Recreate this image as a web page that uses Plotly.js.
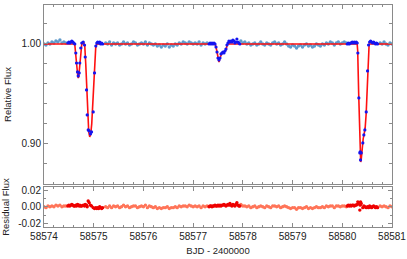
<!DOCTYPE html>
<html><head><meta charset="utf-8">
<script src="https://cdn.plot.ly/plotly-3.0.1.min.js"></script>
<style>html,body{margin:0;padding:0;background:#fff}#chart{width:407px;height:259px}</style>
</head><body><div id="chart"></div>
<script>
// Out-of-eclipse photometry (light blue)
const ootTime = [
58574.00,58574.04,58574.08,58574.12,58574.16,58574.20,58574.24,58574.28,58574.32,58574.36,58574.40,58574.44,
58575.24,58575.28,58575.32,58575.36,58575.40,58575.44,58575.48,58575.52,58575.56,58575.60,58575.64,58575.68,58575.72,
58575.76,58575.80,58575.84,58575.88,58575.92,58575.96,58576.00,58576.04,58576.08,58576.12,58576.16,58576.20,58576.24,
58576.28,58576.32,58576.36,58576.40,58576.44,58576.48,58576.52,58576.56,58576.60,58576.64,58576.68,58576.72,58576.76,
58576.80,58576.84,58576.88,58576.92,58576.96,58577.00,58577.04,58577.08,58577.12,58577.16,58577.20,58577.24,58577.28,
58577.96,58578.00,58578.04,58578.08,58578.12,58578.16,58578.20,58578.24,58578.28,58578.32,58578.36,58578.40,58578.44,
58578.48,58578.52,58578.56,58578.60,58578.64,58578.68,58578.72,58578.76,58578.80,58578.84,58578.88,58578.92,58578.96,
58579.00,58579.04,58579.08,58579.12,58579.16,58579.20,58579.24,58579.28,58579.32,58579.36,58579.40,58579.44,58579.48,
58579.52,58579.56,58579.60,58579.64,58579.68,58579.72,58579.76,58579.80,58579.84,58579.88,58579.92,58579.96,58580.00,
58580.04,58580.08,
58580.76,58580.80,58580.84,58580.88,58580.92,58580.96,58581.00];
const ootFlux = [
1.000,0.999,1.001,1.000,1.002,1.001,1.003,1.002,1.004,1.001,1.002,1.001,
1.001,1.000,1.002,0.999,1.001,1.000,1.001,0.999,1.000,1.002,1.000,1.001,0.999,
1.000,1.002,1.001,0.999,1.000,1.001,1.000,1.002,0.999,1.001,1.000,0.999,1.000,
0.998,0.999,0.997,0.999,0.998,1.000,0.997,0.999,0.998,1.000,0.999,1.001,1.000,
1.002,1.001,1.000,1.002,1.001,1.000,1.001,1.000,1.002,0.999,1.001,1.000,1.001,
1.003,1.001,1.002,1.000,1.001,0.999,1.000,1.001,0.999,1.000,1.002,1.000,0.999,
1.001,1.000,0.999,1.001,1.002,1.000,1.001,0.999,1.000,1.002,1.000,0.998,0.997,
0.999,0.998,0.996,0.998,0.999,0.997,0.999,1.000,0.998,0.999,0.997,0.998,1.000,
0.999,0.998,1.000,0.999,1.001,1.000,1.002,1.001,0.999,1.001,1.002,1.000,1.001,
1.002,1.001,
1.001,1.000,1.002,1.000,0.999,1.001,1.000];
const ootResid = [
0.000,-0.001,0.001,0.000,0.001,0.000,0.002,0.001,0.002,0.000,0.001,0.001,
0.000,-0.001,0.001,-0.001,0.001,0.000,0.001,-0.001,0.000,0.002,0.000,0.001,-0.001,
0.000,0.001,0.001,-0.001,0.000,0.001,0.000,0.002,-0.001,0.001,0.000,-0.001,0.000,
-0.002,-0.001,-0.002,-0.001,-0.001,0.000,-0.002,-0.001,-0.001,0.000,-0.001,0.001,0.000,
0.001,0.001,0.000,0.002,0.001,0.000,0.001,0.000,0.001,-0.001,0.001,0.000,0.001,
0.003,0.001,0.001,0.000,0.001,-0.001,0.000,0.001,-0.001,0.000,0.001,0.000,-0.001,
0.001,0.000,-0.001,0.001,0.001,0.000,0.001,-0.001,0.000,0.001,0.000,-0.001,-0.002,
-0.001,-0.001,-0.003,-0.001,-0.001,-0.002,-0.001,0.000,-0.002,-0.001,-0.002,-0.001,0.000,
-0.001,-0.001,0.000,-0.001,0.001,0.000,0.001,0.001,-0.001,0.001,0.001,0.000,0.001,
0.001,0.000,
0.001,0.000,0.001,0.000,-0.001,0.001,0.000];

// In-eclipse photometry (blue)
const eclTime = [
58574.48,58574.50,58574.52,58574.54,58574.56,58574.58,58574.60,58574.62,58574.640,58574.654,58574.674,58574.688,
58574.708,58574.720,58574.740,58574.760,58574.789,58574.815,58574.829,58574.855,58574.869,58574.889,58574.909,58574.935,
58574.956,58574.990,58575.016,58575.042,58575.062,58575.08,58575.10,58575.12,58575.14,58575.16,58575.18,
58577.32,58577.34,58577.36,58577.38,58577.40,58577.42,58577.44,58577.46,58577.48,58577.50,58577.52,58577.54,
58577.56,58577.58,58577.60,58577.62,58577.64,58577.66,58577.68,58577.70,58577.72,58577.74,58577.76,58577.78,
58577.80,58577.82,58577.84,58577.86,58577.88,58577.90,58577.92,58577.94,
58580.10,58580.12,58580.14,58580.16,58580.18,58580.20,58580.22,58580.24,58580.26,58580.28,58580.30,58580.313,
58580.333,58580.353,58580.360,58580.367,58580.381,58580.413,58580.434,58580.454,58580.482,58580.508,58580.528,58580.55,
58580.57,58580.59,58580.61,58580.63,58580.65,58580.67,58580.69,58580.71];
const eclFlux = [
1.001,1.002,1.001,1.002,1.003,1.002,1.001,1.000,0.991,0.981,0.972,0.968,
0.971,0.981,0.996,1.001,1.002,0.999,0.987,0.954,0.929,0.914,0.913,0.910,
0.912,0.932,0.971,0.998,1.001,1.002,1.001,1.002,1.000,1.001,1.000,
1.000,1.001,1.000,1.001,1.000,1.001,1.000,0.997,0.992,0.986,0.984,0.986,
0.990,0.991,0.992,0.991,0.993,0.995,0.999,1.001,1.003,1.002,1.003,1.002,
1.004,1.003,1.001,1.002,1.005,1.002,1.001,1.000,
1.000,1.001,1.000,1.001,1.001,1.002,1.001,1.002,1.001,1.002,1.001,0.991,
0.946,0.891,0.892,0.884,0.891,0.901,0.909,0.914,0.932,0.973,0.999,1.002,
1.003,1.002,1.001,1.002,1.001,1.000,1.001,1.000];
const eclResid = [
0.001,0.002,0.001,0.002,0.003,0.002,0.001,0.001,0.002,0.001,0.003,0.002,
0.001,0.002,0.001,0.001,0.002,0.001,0.003,0.002,0.000,0.007,0.005,0.002,
0.001,-0.001,-0.002,-0.001,-0.002,-0.001,-0.002,0.000,-0.001,-0.002,-0.001,
0.000,0.001,0.001,0.000,0.001,0.001,0.002,0.001,0.001,0.002,0.001,0.002,
0.001,0.002,0.002,0.003,0.002,0.001,0.002,0.003,0.002,0.004,0.002,0.001,
0.003,0.002,0.001,0.003,0.005,0.002,0.001,0.001,
0.001,0.002,0.001,0.002,0.001,0.002,0.002,0.001,0.002,0.002,0.003,0.006,
0.004,-0.004,0.002,0.006,0.004,-0.001,0.001,0.000,-0.001,0.000,-0.001,0.001,
0.000,-0.001,0.000,0.001,0.000,-0.001,0.000,-0.001];

// Eclipse model (red line)
const modelTime = [
58574.00,58574.60,58574.62,58574.64,58574.66,58574.68,58574.69,58574.70,58574.72,58574.74,58574.76,58574.80,
58574.82,58574.84,58574.86,58574.88,58574.90,58574.92,58574.94,58574.96,58574.98,58575.00,58575.02,58575.04,58575.06,
58577.44,58577.46,58577.48,58577.50,58577.52,58577.54,58577.56,58577.58,58577.62,58577.66,58577.68,58577.70,
58580.30,58580.31,58580.33,58580.35,58580.37,58580.38,58580.40,58580.42,58580.44,58580.46,58580.48,58580.50,58580.52,58580.54,
58581.00];
const modelFlux = [
1.000,1.000,0.999,0.991,0.978,0.968,0.966,0.968,0.980,0.995,1.000,1.001,
0.998,0.980,0.952,0.925,0.912,0.907,0.910,0.920,0.940,0.962,0.982,0.996,1.000,
1.000,0.997,0.991,0.985,0.982,0.986,0.990,0.991,0.992,0.994,0.998,1.000,
1.000,0.993,0.950,0.905,0.882,0.884,0.897,0.905,0.910,0.916,0.930,0.958,0.988,1.000,
1.000];

const fluxTickVals = [0.90, 1.00];
const fluxTickText = ['0.90', '1.00'];
const residTickVals = [-0.02, 0.00, 0.02];
const residTickText = ['-0.02', '0.00', '0.02'];
const dayTickVals = [58574, 58575, 58576, 58577, 58578, 58579, 58580, 58581];
const dayTickText = ['58574', '58575', '58576', '58577', '58578', '58579', '58580', '58581'];

const traces = [
  {x: ootTime, y: ootFlux, type: 'scatter', mode: 'markers', xaxis: 'x', yaxis: 'y',
   marker: {color: '#5f9acb', size: 3.4, line: {width: 0}}},
  {x: modelTime, y: modelFlux, type: 'scatter', mode: 'lines', xaxis: 'x', yaxis: 'y',
   line: {color: '#ff1010', width: 1.6}},
  {x: eclTime, y: eclFlux, type: 'scatter', mode: 'markers', xaxis: 'x', yaxis: 'y',
   marker: {color: '#1414f0', size: 3.2, line: {width: 0}}},
  {x: ootTime, y: ootResid, type: 'scatter', mode: 'markers', xaxis: 'x2', yaxis: 'y2',
   marker: {color: '#ff7458', size: 3.4, line: {width: 0}}},
  {x: eclTime, y: eclResid, type: 'scatter', mode: 'markers', xaxis: 'x2', yaxis: 'y2',
   marker: {color: '#ee0000', size: 3.4, line: {width: 0}}}
];

const axCommon = {showline: true, mirror: 'ticks', linecolor: '#8a8a8a', linewidth: 1,
  ticks: 'inside', ticklen: 4, tickcolor: '#8a8a8a', showgrid: false, zeroline: false,
  tickfont: {family: 'Liberation Sans, Arial, sans-serif', size: 10, color: '#222'}};

const layout = {
  width: 407, height: 259,
  margin: {l: 44, r: 15, t: 5, b: 32},
  paper_bgcolor: '#fff', plot_bgcolor: '#fff',
  showlegend: false,
  font: {family: 'Liberation Sans, Arial, sans-serif', size: 10, color: '#222'},
  xaxis: Object.assign({}, axCommon, {anchor: 'y', domain: [0, 1], range: [58574, 58581],
    tickvals: dayTickVals, ticktext: dayTickText, showticklabels: false,
    minor: {dtick: 0.2, tick0: 58574, ticks: 'inside', ticklen: 2, tickcolor: '#8a8a8a'}}),
  yaxis: Object.assign({}, axCommon, {anchor: 'x', domain: [0.194, 1], range: [0.86, 1.039],
    tickvals: fluxTickVals, ticktext: fluxTickText,
    minor: {dtick: 0.02, tick0: 0, ticks: 'inside', ticklen: 3, tickcolor: '#8a8a8a'},
    title: {text: 'Relative Flux', standoff: 8, font: {size: 9.5}}}),
  xaxis2: Object.assign({}, axCommon, {anchor: 'y2', domain: [0, 1], range: [58574, 58581],
    tickvals: dayTickVals, ticktext: dayTickText,
    minor: {dtick: 0.2, tick0: 58574, ticks: 'inside', ticklen: 2, tickcolor: '#8a8a8a'},
    title: {text: 'BJD - 2400000', standoff: 6, font: {size: 9.5}}}),
  yaxis2: Object.assign({}, axCommon, {anchor: 'x2', domain: [0, 0.18], range: [-0.0245, 0.024],
    tickvals: residTickVals, ticktext: residTickText,
    minor: {dtick: 0.01, tick0: 0, ticks: 'inside', ticklen: 2, tickcolor: '#8a8a8a'},
    title: {text: 'Residual Flux', standoff: 8, font: {size: 9.5}}})
};

Plotly.newPlot('chart', traces, layout, {staticPlot: true, displayModeBar: false});
</script>
</body></html>
